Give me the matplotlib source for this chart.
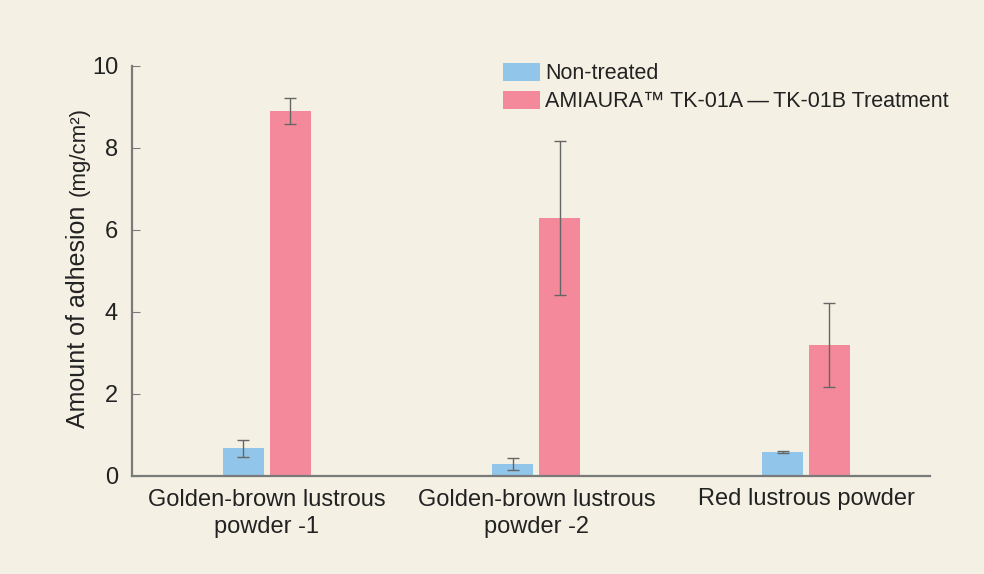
import numpy as np
import matplotlib
matplotlib.use("Agg")
import matplotlib.pyplot as plt

categories = ["Golden-brown lustrous\npowder -1", "Golden-brown lustrous\npowder -2", "Red lustrous powder"]
non_treated = [0.68, 0.29, 0.58]
non_treated_err = [0.21, 0.14, 0.03]
treated = [8.90, 6.29, 3.20]
treated_err = [0.31, 1.88, 1.03]
series_labels = ["Non-treated", "AMIAURA\u2122 TK-01A\u2009\u2014\u2009TK-01B Treatment"]

BG = "#f4f1e4"
BLUE = "#92c5ea"
PINK = "#f4899b"
AXIS = "#7a7a7a"
TEXT = "#222222"

plt.rcParams["font.family"] = ["Liberation Sans", "DejaVu Sans"]

fig = plt.figure(figsize=(9.84, 5.74), dpi=100, facecolor=BG)
ax = fig.add_axes([132 / 984, 1 - 476 / 574, (930 - 132) / 984, (476 - 66) / 574])
ax.set_facecolor(BG)

x = np.arange(len(categories))
w = 0.152
off = 0.087
err_kw = dict(ecolor="#666666", elinewidth=1.0, capsize=4, capthick=1.0)
ax.bar(x - off, non_treated, w, yerr=non_treated_err, color=BLUE, label=series_labels[0], error_kw=err_kw)
ax.bar(x + off, treated, w, yerr=treated_err, color=PINK, label=series_labels[1], error_kw=err_kw)

ax.set_xlim(-0.5, 2.46)
ax.set_ylim(0, 10)
ax.set_yticks([0, 2, 4, 6, 8, 10])
ax.set_xticks(x)
ax.set_xticklabels(categories, fontsize=17, color=TEXT, linespacing=1.3)
ax.tick_params(axis="x", length=0, pad=9)
ax.tick_params(axis="y", direction="in", length=6, color=AXIS, labelsize=17, labelcolor=TEXT, pad=10)

for s in ["top", "right"]:
    ax.spines[s].set_visible(False)
for s in ["left", "bottom"]:
    ax.spines[s].set_color(AXIS)
    ax.spines[s].set_linewidth(1.6)

# y label in two sizes, sharing one baseline
fig.text(85 / 984, 1 - 428 / 574, "Amount of adhesion", rotation=90, rotation_mode="anchor",
         fontsize=18, color=TEXT, ha="left", va="baseline")
fig.text(85 / 984, 1 - 196 / 574, "(mg/cm\u00b2)", rotation=90, rotation_mode="anchor",
         fontsize=16, color=TEXT, ha="left", va="baseline")

ax.legend(loc="upper left", bbox_to_anchor=(503 / 984, 1 - 63 / 574), bbox_transform=fig.transFigure,
          frameon=False, fontsize=15.5, borderpad=0, borderaxespad=0,
          handlelength=1.72, handleheight=0.9, handletextpad=0.25, labelspacing=0.3,
          labelcolor=TEXT)

fig.savefig("out.png", dpi=100, facecolor=BG)
